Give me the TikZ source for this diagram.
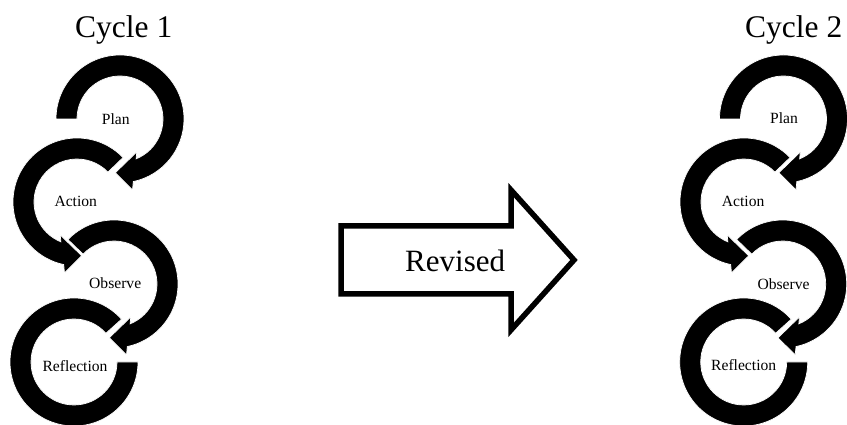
\documentclass[tikz,border=0pt]{standalone}
\usepackage{fontspec}
\setmainfont{Liberation Serif}
\newcommand\cwarrow[2]{%
  \begin{scope}[shift={(#1)}]
    \path[ring] (#2:64pt) arc[start angle=#2,end angle=-78,radius=64pt]
      -- (-80:72pt) -- (-95:54pt) -- (-63:37pt) -- (-68:43pt)
      arc[start angle=-68,end angle=#2,radius=43pt] -- cycle;
  \end{scope}}
\newcommand\ccwarrow[2]{%
  \begin{scope}[shift={(#1)}]
    \path[ring] (#2:64pt) arc[start angle=#2,end angle=258,radius=64pt]
      -- (260:72pt) -- (275:54pt) -- (243:37pt) -- (248:43pt)
      arc[start angle=248,end angle=#2,radius=43pt] -- cycle;
  \end{scope}}
\newcommand\lastring[2]{%
  \begin{scope}[shift={(#1)}]
    \path[ring] (#2:64pt) arc[start angle=#2,end angle=360,radius=64pt]
      -- (0:43pt) arc[start angle=360,end angle=#2,radius=43pt] -- cycle;
  \end{scope}}
\begin{document}
\begin{tikzpicture}[x=1pt,y=1pt,
  ring/.style={fill=black,draw=white,line width=0.7pt},
  lbl/.style={anchor=base west,inner sep=0pt,font=\fontsize{15.6}{18}\selectfont},
  ttl/.style={anchor=base west,inner sep=0pt,font=\fontsize{31.5}{36}\selectfont},
  bigarrow/.style={draw=black,fill=white,line width=5.5pt,miter limit=10}]
\useasboundingbox (0,0) rectangle (847,425);
% centres
\coordinate (p1) at (120,306);
\coordinate (a1) at (77,223);
\coordinate (o1) at (114,141);
\coordinate (r1) at (74,63);
\coordinate (p2) at (783.5,306);
\coordinate (a2) at (744,223);
\coordinate (o2) at (782.7,141);
\coordinate (r2) at (743.7,63);
% cycle 1
\lastring{r1}{42}
\cwarrow{o1}{136}
\ccwarrow{a1}{44}
\cwarrow{p1}{180}
% cycle 2
\lastring{r2}{42}
\cwarrow{o2}{136}
\ccwarrow{a2}{44}
\cwarrow{p2}{180}
% titles
\node[ttl] (t1) at (75,387.3) {Cycle 1};
\node[ttl] (t2) at (745,387.3) {Cycle 2};
% labels cycle 1
\node[lbl] (plan1) at (101.7,300) {Plan};
\node[lbl] (act1) at (54.3,218) {Action};
\node[lbl] (obs1) at (89,136) {Observe};
\node[lbl] (ref1) at (42.3,53.5) {Reflection};
% labels cycle 2
\node[lbl] (plan2) at (770,301) {Plan};
\node[lbl] (act2) at (721.7,218) {Action};
\node[lbl] (obs2) at (757.3,135.7) {Observe};
\node[lbl] (ref2) at (711,54.3) {Reflection};
% revised arrow
\path[bigarrow] (341,199) -- (511,199) -- (511,235) -- (574,165) -- (511,95)
  -- (511,131) -- (341,131) -- cycle;
\node[ttl,font=\fontsize{31}{36}\selectfont] (rev) at (405,153) {Revised};
\end{tikzpicture}
\end{document}
